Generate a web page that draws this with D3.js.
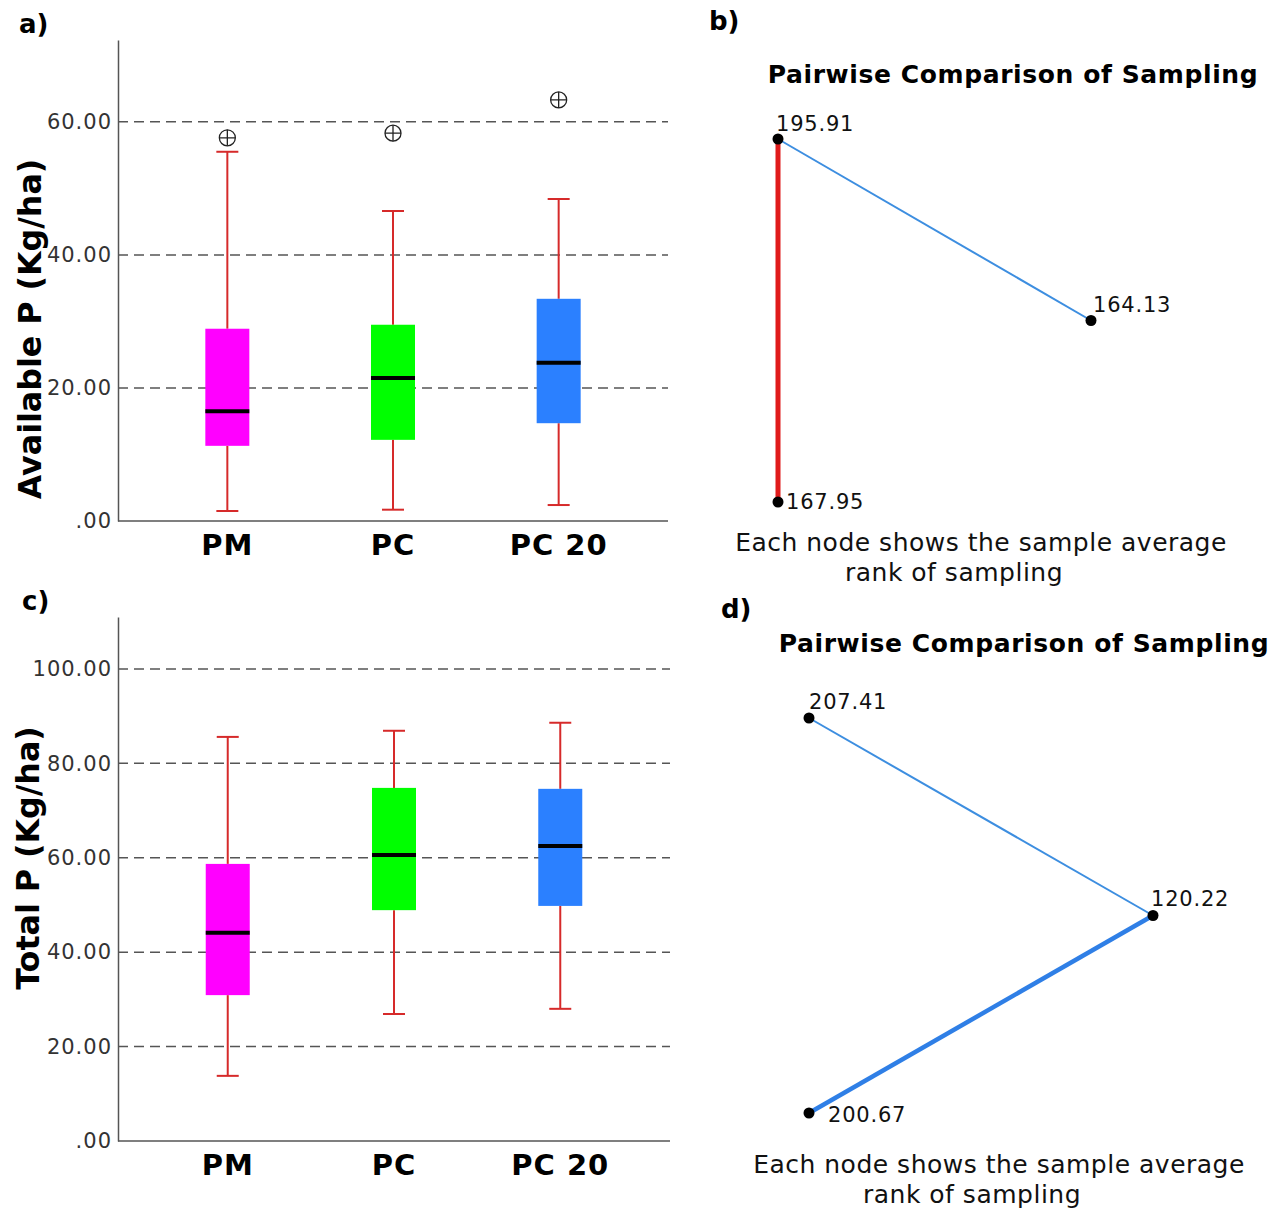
<!DOCTYPE html>
<html lang="en">
<head>
<meta charset="UTF-8">
<title>Available and Total P by sampling</title>
<script src="https://d3js.org/d3.v7.min.js"></script>
<style>
  body { margin: 0; background: #fff; }
  svg text { font-family: "DejaVu Sans", Verdana, sans-serif; }
</style>
</head>
<body>
<svg id="chart" width="1284" height="1209"></svg>
<script>
// ---- data ----
const categories = ["PM", "PC", "PC 20"];
const boxColors = ["#ff00ff", "#00ff00", "#2b80ff"];

// a) Available P (Kg/ha)
const availMin = [1.5, 1.7, 2.4];
const availQ1 = [11.3, 12.2, 14.7];
const availMed = [16.5, 21.5, 23.8];
const availQ3 = [28.9, 29.5, 33.4];
const availMax = [55.5, 46.6, 48.4];
const availOut = [57.6, 58.3, 63.3];
const availTicks = [0, 20, 40, 60];

// c) Total P (Kg/ha)
const totalMin = [13.8, 26.9, 28.0];
const totalQ1 = [30.9, 48.9, 49.8];
const totalMed = [44.1, 60.6, 62.5];
const totalQ3 = [58.7, 74.8, 74.6];
const totalMax = [85.6, 86.9, 88.6];
const totalOut = [null, null, null];
const totalTicks = [0, 20, 40, 60, 80, 100];

// b) and d) mean ranks, in node order: top-left, right, bottom-left
const rankB = ["195.91", "164.13", "167.95"];
const rankD = ["207.41", "120.22", "200.67"];
// edges: [from, to, kind]
const edgesB = [[0, 1, "thin"], [0, 2, "sig"]];
const edgesD = [[0, 1, "thin"], [2, 1, "thick"]];

const svg = d3.select("#chart");
svg.append("rect").attr("width", 1284).attr("height", 1209).attr("fill", "#fff");

const fmt = d => d === 0 ? ".00" : d3.format(".2f")(d);

function boxPanel(opt) {
    const g = svg.append("g");
    const x = d3.scaleBand().domain(categories).range([opt.left, opt.right]).paddingOuter(0.16).paddingInner(0);
    const y = d3.scaleLinear().domain([0, opt.ymax]).range([opt.bottom, opt.top]);
    const bw = 44;

    // dashed grid
    g.selectAll("line.grid").data(opt.ticks.filter(t => t > 0)).join("line")
        .attr("x1", opt.left).attr("x2", opt.right)
        .attr("y1", d => y(d)).attr("y2", d => y(d))
        .attr("stroke", "#555").attr("stroke-width", 1.5).attr("stroke-dasharray", "10,6");

    // y axis
    const ya = g.append("g").attr("transform", `translate(${opt.left},0)`)
        .call(d3.axisLeft(y).tickValues(opt.ticks).tickFormat(fmt).tickSize(0).tickPadding(6));
    ya.select(".domain").attr("stroke", "#555").attr("stroke-width", 1.5);
    ya.selectAll("text").attr("font-size", 21).attr("fill", "#333").attr("letter-spacing", 1)
        .attr("font-family", "DejaVu Sans");

    // x axis
    const xa = g.append("g").attr("transform", `translate(0,${opt.bottom})`)
        .call(d3.axisBottom(x).tickSize(0).tickPadding(13).tickSizeOuter(0));
    xa.select(".domain").attr("d", `M${opt.left},0H${opt.right}`).attr("stroke", "#555").attr("stroke-width", 1.5);
    xa.selectAll("text").attr("font-size", 29).attr("font-weight", "bold").attr("fill", "#000")
        .attr("letter-spacing", 1).attr("font-family", "DejaVu Sans");

    const rows = categories.map((c, i) => ({
        c, i, min: opt.min[i], q1: opt.q1[i], med: opt.med[i], q3: opt.q3[i], max: opt.max[i], out: opt.out[i]
    }));
    const cx = d => x(d.c) + x.bandwidth() / 2;
    const wcol = "#d62a2a";

    const b = g.selectAll("g.box").data(rows).join("g");
    b.append("line").attr("x1", cx).attr("x2", cx)
        .attr("y1", d => y(d.max)).attr("y2", d => y(d.q3)).attr("stroke", wcol).attr("stroke-width", 2);
    b.append("line").attr("x1", cx).attr("x2", cx)
        .attr("y1", d => y(d.q1)).attr("y2", d => y(d.min)).attr("stroke", wcol).attr("stroke-width", 2);
    b.append("line").attr("x1", d => cx(d) - 11).attr("x2", d => cx(d) + 11)
        .attr("y1", d => y(d.max)).attr("y2", d => y(d.max)).attr("stroke", wcol).attr("stroke-width", 2);
    b.append("line").attr("x1", d => cx(d) - 11).attr("x2", d => cx(d) + 11)
        .attr("y1", d => y(d.min)).attr("y2", d => y(d.min)).attr("stroke", wcol).attr("stroke-width", 2);
    b.append("rect").attr("x", d => cx(d) - bw / 2).attr("width", bw)
        .attr("y", d => y(d.q3)).attr("height", d => y(d.q1) - y(d.q3))
        .attr("fill", d => boxColors[d.i]);
    b.append("line").attr("x1", d => cx(d) - bw / 2).attr("x2", d => cx(d) + bw / 2)
        .attr("y1", d => y(d.med)).attr("y2", d => y(d.med)).attr("stroke", "#000").attr("stroke-width", 4);

    // outliers (circle with cross)
    const o = g.selectAll("g.out").data(rows.filter(d => d.out != null)).join("g")
        .attr("transform", d => `translate(${cx(d)},${y(d.out)})`);
    o.append("circle").attr("r", 8).attr("fill", "none").attr("stroke", "#222").attr("stroke-width", 1.3);
    o.append("path").attr("d", "M-8,0H8M0,-8V8").attr("stroke", "#222").attr("stroke-width", 1.3);

    // y label
    g.append("text").attr("transform", `translate(${opt.labelX},${opt.labelY}) rotate(-90)`)
        .attr("text-anchor", "middle").attr("dominant-baseline", "central")
        .attr("font-size", 31.7).attr("font-weight", "bold").text(opt.ylabel);

    g.append("text").attr("x", opt.tagX).attr("y", opt.tagY)
        .attr("font-size", 26).attr("font-weight", "bold").text(opt.tag);
}

boxPanel({
    left: 118, right: 668, top: 40, bottom: 521, ymax: 72.3, ticks: availTicks,
    min: availMin, q1: availQ1, med: availMed, q3: availQ3, max: availMax, out: availOut,
    ylabel: "Available P (Kg/ha)", labelX: 30, labelY: 329, tag: "a)", tagX: 19, tagY: 33
});
boxPanel({
    left: 118, right: 670, top: 617, bottom: 1141, ymax: 111, ticks: totalTicks,
    min: totalMin, q1: totalQ1, med: totalMed, q3: totalQ3, max: totalMax, out: totalOut,
    ylabel: "Total P (Kg/ha)", labelX: 28, labelY: 858, tag: "c)", tagX: 22, tagY: 610
});

// network panels
const slots = [[0, 0], [1, 0.5], [0, 1]];
const edgeColor = d3.scaleOrdinal().domain(["thin", "thick", "sig"]).range(["#3d8ee0", "#2f7fe6", "#e01b1b"]);
const edgeWidth = d3.scaleOrdinal().domain(["thin", "thick", "sig"]).range([2, 4.5, 5]);

function netPanel(opt) {
    const g = svg.append("g");
    const x = d3.scaleLinear().domain([0, 1]).range(opt.xr);
    const y = d3.scaleLinear().domain([0, 1]).range(opt.yr);
    const pos = i => [x(slots[i][0]), y(slots[i][1])];

    g.append("text").attr("x", opt.tagX).attr("y", opt.tagY)
        .attr("font-size", 26).attr("font-weight", "bold").text(opt.tag);
    g.append("text").attr("x", opt.titleX).attr("y", opt.titleY).attr("text-anchor", "middle")
        .attr("font-size", 25).attr("font-weight", "bold").attr("letter-spacing", 0.6)
        .text("Pairwise Comparison of Sampling");

    g.selectAll("line").data(opt.edges).join("line")
        .attr("x1", d => pos(d[0])[0]).attr("y1", d => pos(d[0])[1])
        .attr("x2", d => pos(d[1])[0]).attr("y2", d => pos(d[1])[1])
        .attr("stroke", d => edgeColor(d[2])).attr("stroke-width", d => edgeWidth(d[2]));

    g.selectAll("circle").data(opt.ranks).join("circle")
        .attr("cx", (d, i) => pos(i)[0]).attr("cy", (d, i) => pos(i)[1])
        .attr("r", 5.5).attr("fill", "#000");

    g.selectAll("text.rank").data(opt.ranks).join("text").attr("class", "rank")
        .attr("x", (d, i) => pos(i)[0] + opt.off[i][0]).attr("y", (d, i) => pos(i)[1] + opt.off[i][1])
        .attr("font-size", 21).attr("letter-spacing", 0.8).attr("fill", "#111").text(d => d);

    g.append("text").attr("x", opt.footX).attr("y", opt.footY).attr("text-anchor", "middle")
        .attr("font-size", 25).attr("letter-spacing", 0.5).attr("fill", "#111")
        .text("Each node shows the sample average");
    g.append("text").attr("x", opt.footX - 27).attr("y", opt.footY + 30).attr("text-anchor", "middle")
        .attr("font-size", 25).attr("letter-spacing", 0.5).attr("fill", "#111").text("rank of sampling");
}

netPanel({
    xr: [778, 1091], yr: [139, 502], ranks: rankB, edges: edgesB,
    off: [[-2, -8], [2, -9], [8, 7]],
    tag: "b)", tagX: 709, tagY: 30, titleX: 1013, titleY: 83, footX: 981, footY: 551
});
netPanel({
    xr: [809, 1153], yr: [718, 1113], ranks: rankD, edges: edgesD,
    off: [[0, -9], [-2, -10], [19, 9]],
    tag: "d)", tagX: 721, tagY: 618, titleX: 1024, titleY: 652, footX: 999, footY: 1173
});
</script>
</body>
</html>
